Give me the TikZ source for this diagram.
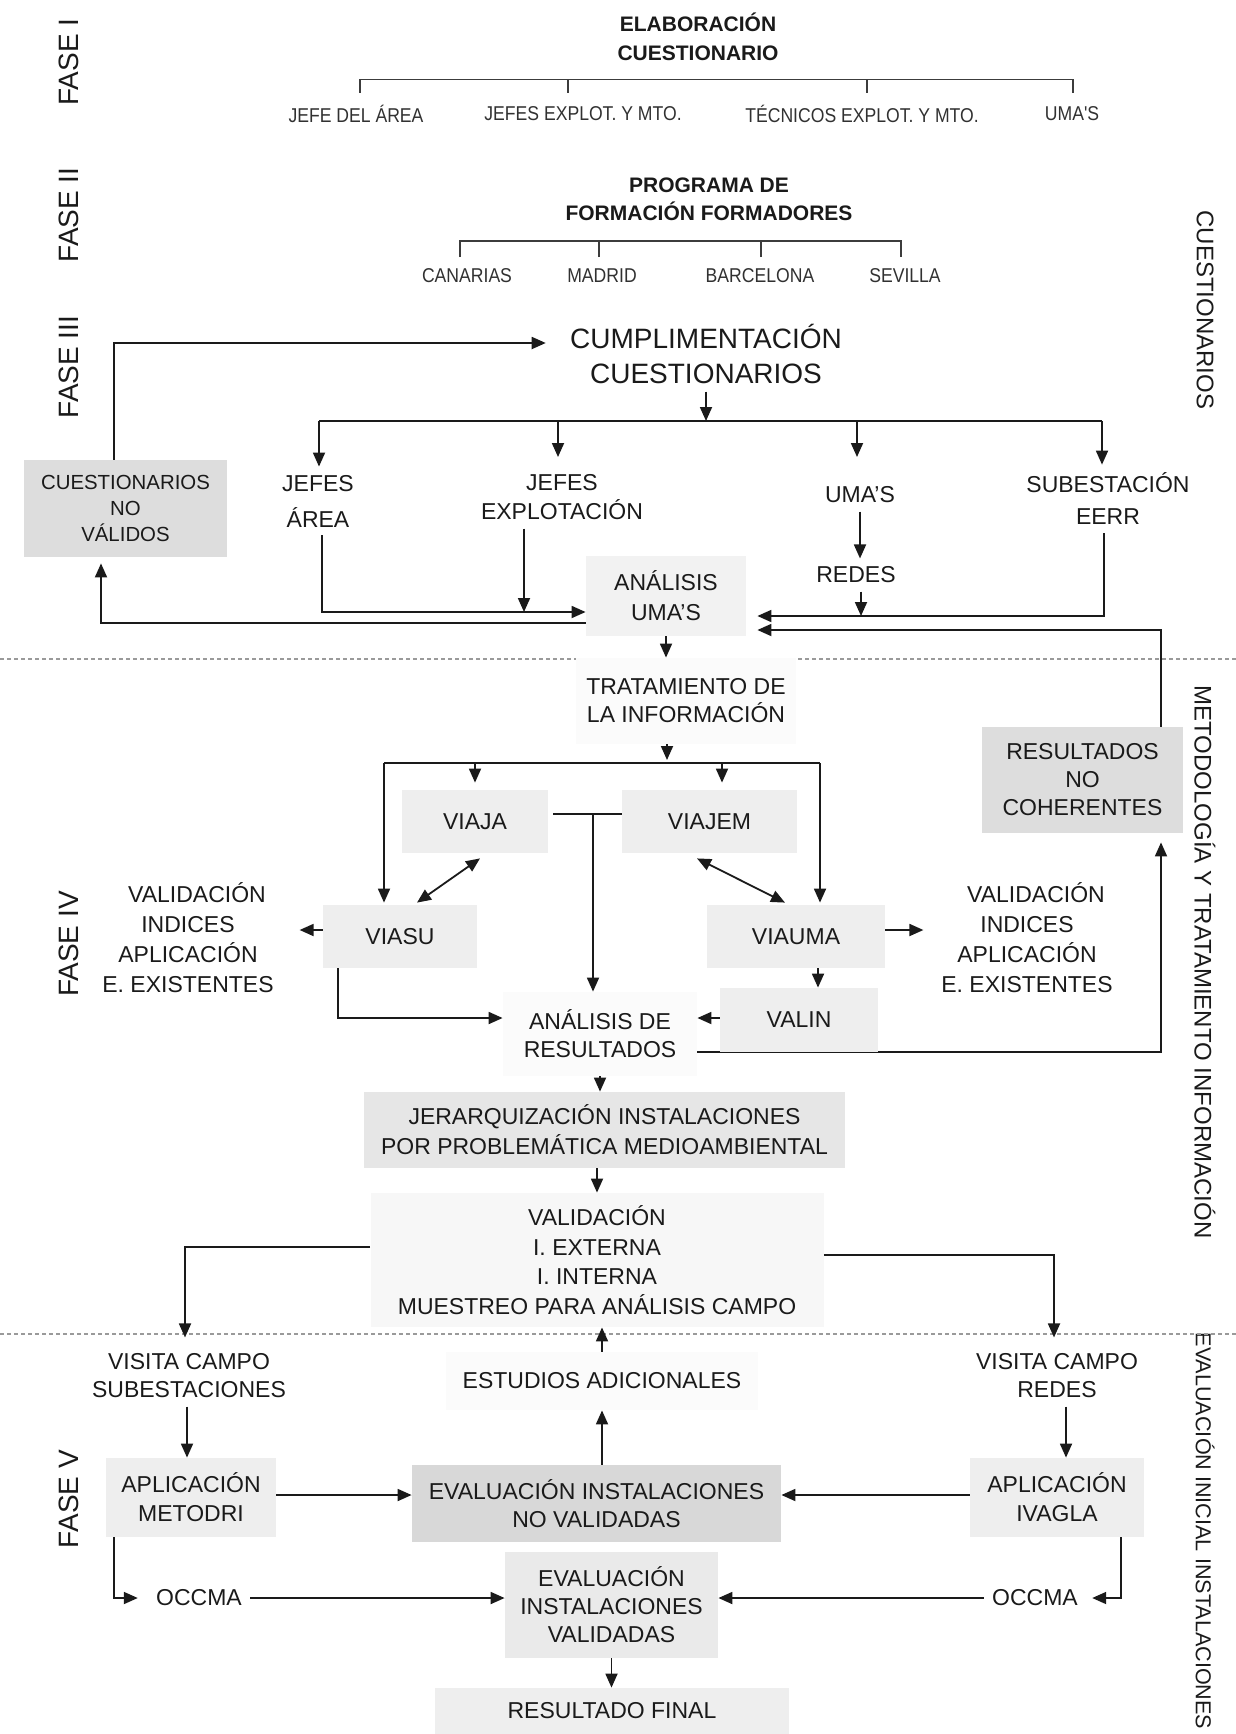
\documentclass[tikz,border=0pt]{standalone}
\usepackage{fontspec}
\setmainfont{Liberation Sans}
\newfontfamily\narrowfont{Liberation Sans}[FakeStretch=0.88]
\usetikzlibrary{arrows.meta,calc,backgrounds}
\definecolor{ink}{HTML}{1A1A1A}
\definecolor{sepgray}{HTML}{9A9A9A}
\definecolor{gDark}{HTML}{DDDDDD}
\definecolor{gEnv}{HTML}{D8D8D8}
\definecolor{gJer}{HTML}{E6E6E6}
\definecolor{gBox}{HTML}{EEEEEE}
\definecolor{gEiv}{HTML}{EAEAEA}
\definecolor{gAu}{HTML}{F2F2F2}
\definecolor{gVal}{HTML}{F7F7F7}
\definecolor{gFaint}{HTML}{FBFBFB}
\begin{document}
\begin{tikzpicture}[x=0.5pt,y=-0.5pt,
  every node/.style={text=ink},
  txt/.style={align=center,inner sep=4pt,font=\fontsize{11.5}{14}\selectfont},
  fbox/.style={txt,fill=#1},
  arr/.style={draw=ink,line width=0.9pt,-{Triangle[length=7pt,width=6pt]}},
  darr/.style={draw=ink,line width=0.9pt,{Triangle[length=7pt,width=6pt]}-{Triangle[length=7pt,width=6pt]}},
  ln/.style={draw=ink,line width=0.9pt},
  brk/.style={draw=ink!85,line width=0.8pt},
  sepline/.style={draw=sepgray,line width=0.8pt,dash pattern=on 2pt off 1.5pt},
  fase/.style={rotate=90,font=\fontsize{14}{16}\selectfont,inner sep=0pt},
  side/.style={rotate=-90,font=\fontsize{12}{14}\selectfont,inner sep=0pt},
  sml/.style={font=\narrowfont\fontsize{10}{12}\selectfont,inner sep=4pt,text=ink!90},
  head/.style={align=center,font=\bfseries\fontsize{10.5}{14.5}\selectfont,inner sep=2pt},
]
\useasboundingbox (0,0) rectangle (1236,1734);

% ---------- phase labels and section titles ----------
\node[fase] (f1) at (69,62) {FASE I};
\node[fase] (f2) at (69,215) {FASE II};
\node[fase] (f3) at (69,367) {FASE III};
\node[fase] (f4) at (69,944) {FASE IV};
\node[fase] (f5) at (69,1499) {FASE V};

\node[side] (s1) at (1205,310) {CUESTIONARIOS};
\node[side] (s2) at (1205,962) {METODOLOGÍA Y TRATAMIENTO INFORMACIÓN};
\node[side,font=\fontsize{10.8}{13}\selectfont] (s3) at (1205,1531) {EVALUACIÓN INICIAL INSTALACIONES};

% ---------- section separators ----------
\draw[sepline] (0,659) -- (1236,659);
\draw[sepline] (0,1334) -- (1236,1334);

% ---------- phase I ----------
\node[head] (elab) at (698,36.5) {ELABORACIÓN\\CUESTIONARIO};
\node[sml] (j1) at (356,114) {JEFE DEL ÁREA};
\node[sml] (j2) at (583,114) {JEFES EXPLOT. Y MTO.};
\node[sml] (j3) at (862,114) {TÉCNICOS EXPLOT. Y MTO.};
\node[sml] (j4) at (1072,114) {UMA'S};
\coordinate (k1) at (360,93);
\coordinate (k2) at (568,93);
\coordinate (k3) at (867,93);
\coordinate (k4) at (1073,93);
\coordinate (bar1) at (700,79.5);
\draw[brk] (k1) |- (bar1) -| (k4);
\draw[brk] (k2) -- (k2 |- bar1);
\draw[brk] (k3) -- (k3 |- bar1);

% ---------- phase II ----------
\node[head,font=\bfseries\fontsize{10.5}{14}\selectfont] (prog) at (709,199) {PROGRAMA DE\\FORMACIÓN FORMADORES};
\node[sml] (c1) at (467,276) {CANARIAS};
\node[sml] (c2) at (602,276) {MADRID};
\node[sml] (c3) at (760,276) {BARCELONA};
\node[sml] (c4) at (905,276) {SEVILLA};
\coordinate (m1) at (460,257);
\coordinate (m2) at (599,257);
\coordinate (m3) at (761,257);
\coordinate (m4) at (901,257);
\coordinate (bar2) at (700,241);
\draw[brk] (m1) |- (bar2) -| (m4);
\draw[brk] (m2) -- (m2 |- bar2);
\draw[brk] (m3) -- (m3 |- bar2);

% ---------- phase III ----------
\node[txt,font=\fontsize{14}{17.5}\selectfont] (cump) at (706,353.5) {CUMPLIMENTACIÓN\\CUESTIONARIOS};
\node[fbox=gDark,minimum width=101.5pt,minimum height=48.5pt,font=\fontsize{10.2}{13}\selectfont] (cnv) at (125.5,508.5) {CUESTIONARIOS\\NO\\VÁLIDOS};
\node[txt,font=\fontsize{11.5}{18}\selectfont] (ja) at (318,501) {JEFES\\ÁREA};
\node[txt,font=\fontsize{11.5}{14.5}\selectfont] (je) at (562,497.5) {JEFES\\EXPLOTACIÓN};
\node[txt] (uma) at (860,495) {UMA'S};
\node[txt] (red) at (856,575) {REDES};
\node[txt,font=\fontsize{11.5}{16}\selectfont] (se) at (1108,499) {SUBESTACIÓN\\EERR};
\node[fbox=gAu,minimum width=80pt,minimum height=40pt,font=\fontsize{11.5}{15}\selectfont] (au) at (666,596) {ANÁLISIS\\UMA'S};

% fan-out from the questionnaire completion
\coordinate (fan3) at (706,421);
\coordinate (fa) at (319,421);
\coordinate (fb) at (1102,421);
\draw[arr] (cump.south) -- (fan3);
\draw[ln] (fa) -- (fb);
\draw[arr] (fa) -- (fa |- ja.north);
\draw[arr] (558,421) -- (558,457);
\draw[arr] (857,421) -- (857,457);
\draw[arr] (fb) -- (fb |- se.north);

% inputs to the UMA analysis
\coordinate (cnvT) at ($(cnv.north)+(-11.5,0)$);
\coordinate (cumpIn) at ($(cump.west)+(-16,-10.5)$);
\coordinate (jaS) at ($(ja.south)+(4,0)$);
\coordinate (auInL) at ($(au.west)+(0,16)$);
\coordinate (auOutL) at ($(au.west)+(0,27)$);
\coordinate (cnvB) at ($(cnv.south)+(-24.5,6)$);
\coordinate (jeS) at ($(je.south)+(-38,0)$);
\coordinate (seS) at ($(se.south)+(-4,0)$);
\coordinate (auInR) at ($(au.east)+(11,20)$);
\coordinate (auInR2) at ($(au.east)+(11,34)$);
\coordinate (redS) at ($(red.south)+(5,0)$);

\draw[arr] (cnvT) |- (cumpIn);
\draw[arr] (jaS) |- (auInL);
\draw[arr] (jeS) -- (jeS |- auInL);
\draw[arr] (auOutL) -| (cnvB);
\draw[arr] (uma.south) -- (uma.south |- red.north);
\draw[arr] (seS) |- (auInR);
\draw[arr] (redS) -- (redS |- auInR);

% ---------- phase IV ----------
\node[fbox=gFaint,minimum width=110pt,minimum height=43pt,font=\fontsize{11.5}{14}\selectfont] (trat) at (686,701) {TRATAMIENTO DE\\LA INFORMACIÓN};
\node[fbox=gBox,minimum width=73pt,minimum height=31.5pt] (vja) at (475,821.5) {VIAJA};
\node[fbox=gBox,minimum width=87.5pt,minimum height=31.5pt] (vjm) at (709.5,821.5) {VIAJEM};
\node[fbox=gBox,minimum width=77pt,minimum height=31.5pt] (vsu) at (400,936.5) {VIASU};
\node[fbox=gBox,minimum width=89pt,minimum height=31.5pt] (vum) at (796,936.5) {VIAUMA};
\node[fbox=gDark,minimum width=100.5pt,minimum height=53pt] (rnc) at (1082.5,780) {RESULTADOS\\NO\\COHERENTES};
\node[fbox=gFaint,minimum width=97pt,minimum height=42pt] (adr) at (600,1034) {ANÁLISIS DE\\RESULTADOS};
\node[txt,font=\fontsize{11.5}{15}\selectfont] (vl) at (188,937.5) {\hspace*{9pt}VALIDACIÓN\\INDICES\\APLICACIÓN\\E. EXISTENTES};
\node[txt,font=\fontsize{11.5}{15}\selectfont] (vr) at (1027,937.5) {\hspace*{9pt}VALIDACIÓN\\INDICES\\APLICACIÓN\\E. EXISTENTES};

% results loop back to the UMA analysis (partly hidden under VALIN)
\coordinate (adrOut) at ($(adr.east)+(0,18)$);
\coordinate (rncIn) at ($(rnc.south)+(78.5,9)$);
\coordinate (rncOut) at ($(rnc.north)+(78.5,0)$);
\begin{scope}[on background layer]
\draw[arr] (adrOut) -| (rncIn);
\end{scope}
\node[fbox=gBox,minimum width=79pt,minimum height=32pt] (val) at (799,1020) {VALIN};

\draw[arr] (rncOut) |- (auInR2);
\draw[arr] (au.south) -- (au.south |- trat.north);

% fan-out from the information processing
\coordinate (fan4) at (667,763);
\coordinate (tratS) at ($(trat.south)+(-19,0)$);
\coordinate (vsT) at ($(vsu.north)+(-16,-2)$);
\coordinate (vuT) at ($(vum.north)+(24,-2)$);
\coordinate (vjT) at ($(vja.north)+(0,-7)$);
\coordinate (vmT) at ($(vjm.north)+(12.5,-7)$);
\draw[arr] (tratS) -- ($(fan4)+(0,-3)$);
\draw[ln] (vsT |- fan4) -- (vuT |- fan4);
\draw[arr] (vsT |- fan4) -- (vsT);
\draw[arr] (vuT |- fan4) -- (vuT);
\draw[arr] (vjT |- fan4) -- (vjT);
\draw[arr] (vmT |- fan4) -- (vmT);

\draw[darr] ($(vja.south)+(5,5)$) -- ($(vsu.north)+(17,-2)$);
\draw[darr] ($(vjm.south)+(-12.5,5)$) -- ($(vum.north)+(-11,-2)$);

\coordinate (stub) at (593,814);
\draw[ln] ($(vja.east)+(5,-7.5)$) -- ($(vjm.west)+(0,-7.5)$);
\draw[arr] (stub) -- (stub |- adr.north);

\coordinate (vsB) at ($(vsu.south)+(-62,0)$);
\coordinate (adrInL) at ($(adr.west)+(0,-16)$);
\draw[arr] (vsB) |- (adrInL);
\draw[arr] ($(vsu.west)+(0,-6.5)$) -- ($(vsu.west)+(-23,-6.5)$);
\draw[arr] ($(vum.east)+(0,-6.5)$) -- ($(vum.east)+(38,-6.5)$);
\draw[arr] ($(vum.south)+(22,0)$) -- ($(val.north)+(19,0)$);
\draw[arr] ($(val.west)+(0,-2)$) -- ($(adr.east)+(0,-16)$);

\node[fbox=gJer,minimum width=240.5pt,minimum height=38pt,font=\fontsize{11.5}{15}\selectfont] (jer) at (604.5,1130) {JERARQUIZACIÓN INSTALACIONES\\POR PROBLEMÁTICA MEDIOAMBIENTAL};
\node[fbox=gVal,minimum width=226.5pt,minimum height=67pt,font=\fontsize{11.5}{14.8}\selectfont] (vald) at (597,1260) {VALIDACIÓN\\I. EXTERNA\\I. INTERNA\\MUESTREO PARA ANÁLISIS CAMPO};

\draw[arr] (adr.south) -- (adr.south |- jer.north);
\draw[arr] (vald.north |- jer.south) -- (vald.north);

% ---------- phase V ----------
\node[txt] (vcs) at (189,1376) {VISITA CAMPO\\SUBESTACIONES};
\node[fbox=gFaint,minimum width=156pt,minimum height=29pt] (ea) at (602,1381) {ESTUDIOS ADICIONALES};
\node[txt] (vcr) at (1057,1376) {VISITA CAMPO\\REDES};
\node[fbox=gBox,minimum width=85pt,minimum height=39.5pt,font=\fontsize{11.5}{14.5}\selectfont] (met) at (191,1497.5) {APLICACIÓN\\METODRI};
\node[fbox=gEnv,minimum width=184.5pt,minimum height=38.5pt] (env) at (596.5,1503.5) {EVALUACIÓN INSTALACIONES\\NO VALIDADAS};
\node[fbox=gBox,minimum width=87pt,minimum height=39.5pt,font=\fontsize{11.5}{14.5}\selectfont] (iva) at (1057,1497.5) {APLICACIÓN\\IVAGLA};
\node[txt] (ocl) at (199,1598) {OCCMA};
\node[txt] (ocr) at (1035,1598) {OCCMA};
\node[fbox=gEiv,minimum width=106.5pt,minimum height=53pt] (eiv) at (611.5,1605) {EVALUACIÓN\\INSTALACIONES\\VALIDADAS};
\node[fbox=gBox,minimum width=177pt,minimum height=23pt] (rf) at (612,1711) {RESULTADO FINAL};

\coordinate (valL) at ($(vald.west)+(0,-13)$);
\coordinate (valR) at ($(vald.east)+(0,-5)$);
\coordinate (vcsT) at ($(vcs.north)+(-4,-8)$);
\coordinate (vcrT) at ($(vcr.north)+(-3,-8)$);
\coordinate (metE) at ($(met.east)+(0,-2.5)$);
\coordinate (ivaW) at ($(iva.west)+(0,-2.5)$);
\coordinate (metB) at ($(met.south)+(-77,0)$);
\coordinate (ivaB) at ($(iva.south)+(64,0)$);
\coordinate (oclIn) at ($(ocl.west)+(-10,0)$);
\coordinate (ocrIn) at ($(ocr.east)+(6,0)$);

\draw[arr] (valL) -| (vcsT);
\draw[arr] (valR) -| (vcrT);
\draw[arr] ($(vcs.south)+(-2,0)$) -- ($(met.north)+(-4,0)$);
\draw[arr] ($(vcr.south)+(9,0)$) -- ($(iva.north)+(9,0)$);
\draw[arr] (metE) -- (metE -| env.west);
\draw[arr] (ivaW) -- (ivaW -| env.east);
\draw[arr] (ea.south |- env.north) -- (ea.south);
\draw[arr] (ea.north) -- (ea.north |- vald.south);
\draw[arr] (metB) |- (oclIn);
\draw[arr] (ocl.east) -- (ocl.east -| eiv.west);
\draw[arr] (ocr.west) -- (ocr.west -| eiv.east);
\draw[arr] (ivaB) |- (ocrIn);
\draw[arr] (eiv.south) -- (eiv.south |- rf.north);
\end{tikzpicture}
\end{document}
